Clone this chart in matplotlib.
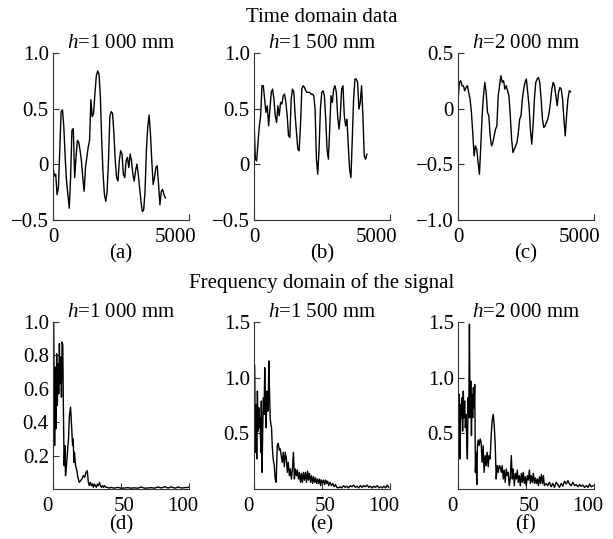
import numpy as np
import matplotlib
matplotlib.use("Agg")
import matplotlib.pyplot as plt
from matplotlib.transforms import ScaledTranslation

plt.rcParams['font.family'] = ['Liberation Serif', 'DejaVu Serif']
plt.rcParams['mathtext.fontset'] = 'custom'
plt.rcParams['mathtext.rm'] = 'Liberation Serif'
plt.rcParams['mathtext.it'] = 'Liberation Serif:italic'

# time domain data
a_vals = [-0.013, -0.105, -0.089, -0.272, -0.211, 0.124, 0.474, 0.489, 0.337, 0.063,
          -0.150, -0.272, -0.394, -0.120, 0.306, 0.321, -0.120, 0.063, 0.215, 0.200,
          0.124, 0.032, -0.120, -0.242, -0.029, 0.063, 0.154, 0.215, 0.580, 0.428,
          0.458, 0.641, 0.793, 0.839, 0.808, 0.610, 0.215, -0.089, -0.272, -0.333,
          -0.242, 0.032, 0.428, 0.474, 0.458, 0.276, 0.032, -0.120, -0.150, 0.032,
          0.124, 0.093, -0.089, -0.120, 0.032, 0.063, -0.029, 0.093, 0.032, -0.089,
          -0.150, -0.059, 0.002, -0.089, -0.211, -0.333, -0.424, -0.409, -0.242, 0.124,
          0.337, 0.443, 0.276, 0.032, -0.181, -0.120, -0.029, -0.013, -0.181, -0.363,
          -0.242, -0.226, -0.272, -0.302]
b_vals = [0.406, 0.046, 0.031, 0.196, 0.346, 0.436, 0.706, 0.706, 0.586, 0.466,
          0.526, 0.346, 0.496, 0.646, 0.676, 0.586, 0.436, 0.376, 0.526, 0.436,
          0.556, 0.541, 0.616, 0.631, 0.556, 0.436, 0.256, 0.241, 0.586, 0.676,
          0.646, 0.436, 0.286, 0.136, 0.121, 0.346, 0.676, 0.706, 0.691, 0.661,
          0.646, 0.646, 0.646, 0.631, 0.631, 0.616, 0.496, 0.046, -0.089, 0.136,
          0.496, 0.646, 0.661, 0.616, 0.406, 0.136, 0.046, 0.316, 0.616, 0.556,
          0.676, 0.706, 0.646, 0.436, 0.316, 0.436, 0.676, 0.706, 0.436, 0.346,
          0.406, 0.166, -0.044, -0.119, 0.226, 0.586, 0.766, 0.766, 0.736, 0.496,
          0.556, 0.706, 0.436, 0.076, 0.046, 0.091]
c_vals = [0.071, 0.236, 0.251, 0.206, 0.206, 0.161, 0.191, 0.206, 0.146, 0.086,
          -0.034, -0.214, -0.424, -0.334, -0.364, -0.484, -0.589, -0.334, -0.064, 0.116,
          0.236, 0.146, -0.034, -0.064, -0.244, -0.334, -0.304, -0.244, -0.184, -0.154,
          0.116, 0.206, 0.296, 0.236, 0.251, 0.176, 0.206, 0.161, 0.116, -0.064,
          -0.274, -0.394, -0.364, -0.334, -0.304, -0.214, -0.094, -0.064, 0.086, 0.176,
          0.236, 0.266, 0.146, 0.026, -0.184, -0.319, -0.154, 0.086, 0.236, 0.266,
          0.281, 0.236, 0.086, -0.094, -0.169, -0.154, -0.124, -0.094, -0.034, 0.056,
          0.176, 0.236, 0.206, 0.116, 0.026, 0.146, 0.191, 0.176, 0.086, -0.094,
          -0.244, -0.064, 0.086, 0.161, 0.152]
t_end = [4130, 4150, 4140]

# frequency domain
d_freq = [0.5, 1.2, 1.7, 2.2, 2.7, 3.2, 3.7, 4.2, 4.7, 5.2, 5.7, 6.2, 6.7, 7.2, 7.7,
          8.2, 8.7, 9.2, 9.9, 10.6, 11.4, 12.1, 12.9, 13.4, 13.9, 14.4, 14.9, 15.3,
          15.8, 16.6, 17.3, 18.3, 19.3, 20.3, 21.3, 22.3, 23.3, 24.3, 25.2, 26.0,
          26.7, 27.5, 28.2, 29.0, 29.7, 30.4, 31.2, 31.9, 32.7, 33.4, 34.2, 34.9,
          35.6, 36.4, 37.1, 37.9, 38.9, 40.1, 41.3, 42.6, 45.0, 47.5, 50.0, 51.2,
          52.5, 54.9, 57.4, 59.9, 62.4, 64.8, 67.3, 69.8, 72.3, 74.7, 77.2, 79.7,
          82.2, 84.6, 87.1, 89.6, 92.1, 94.5, 97.0, 99.5]
d_amp = [0.99, 0.26, 0.73, 0.36, 0.81, 0.50, 0.75, 0.57, 0.87, 0.63, 0.79, 0.55, 0.88,
         0.86, 0.44, 0.14, 0.26, 0.08, 0.14, 0.22, 0.30, 0.44, 0.49, 0.42, 0.34, 0.26,
         0.30, 0.16, 0.22, 0.14, 0.12, 0.07, 0.04, 0.05, 0.06, 0.08, 0.07, 0.10, 0.11,
         0.04, 0.02, 0.04, 0.02, 0.03, 0.01, 0.03, 0.02, 0.01, 0.03, 0.02, 0.04, 0.02,
         0.01, 0.02, 0.01, 0.02, 0.01, 0.01, 0.005, 0.01, 0.005, 0.01, 0.005, 0.005,
         0.006, 0.008, 0.005, 0.007, 0.005, 0.012, 0.005, 0.006, 0.008, 0.005, 0.012,
         0.006, 0.014, 0.006, 0.013, 0.005, 0.012, 0.006, 0.008, 0.01]
e_freq = [0.5, 1.0, 1.5, 2.0, 2.5, 3.0, 3.5, 4.0, 4.5, 5.0, 5.4, 5.9, 6.4, 6.9, 7.4,
          7.9, 8.4, 8.9, 9.4, 9.9, 10.4, 10.9, 11.4, 11.9, 12.4, 12.9, 13.4, 14.1,
          14.9, 15.6, 16.3, 17.1, 17.8, 18.6, 19.3, 20.0, 20.8, 21.5, 22.3, 23.0,
          23.8, 24.5, 25.2, 26.0, 26.7, 27.5, 28.2, 29.0, 29.7, 30.4, 31.2, 31.9,
          32.7, 33.4, 34.2, 34.9, 35.6, 36.4, 37.1, 37.9, 38.6, 39.4, 40.1, 40.8,
          41.6, 42.3, 43.1, 43.8, 44.6, 45.3, 46.0, 46.8, 47.5, 48.3, 49.0, 49.7,
          50.5, 51.2, 52.0, 52.7, 53.5, 54.2, 54.9, 55.9, 56.9, 57.9, 58.9, 59.9,
          60.9, 62.1, 63.4, 64.6, 65.8, 67.1, 68.3, 69.5, 70.8, 72.0, 73.3, 74.5,
          75.7, 77.0, 78.2, 79.4, 80.7, 81.9, 83.2, 84.4, 85.6, 86.9, 88.1, 89.3,
          90.6, 91.8, 93.1, 94.3, 95.5, 96.8, 98.0, 99.0]
e_amp = [1.11, 0.33, 0.76, 0.27, 0.88, 0.52, 0.73, 0.55, 0.64, 0.33, 0.79, 0.15, 0.52,
         0.82, 0.67, 1.09, 0.76, 0.55, 0.88, 0.70, 0.70, 1.15, 0.88, 0.64, 0.58, 0.55,
         0.39, 0.27, 0.21, 0.09, 0.06, 0.39, 0.41, 0.35, 0.36, 0.30, 0.24, 0.33, 0.20,
         0.33, 0.27, 0.15, 0.24, 0.12, 0.18, 0.09, 0.17, 0.33, 0.09, 0.18, 0.12, 0.17,
         0.09, 0.15, 0.06, 0.14, 0.06, 0.15, 0.08, 0.15, 0.06, 0.16, 0.08, 0.14, 0.06,
         0.12, 0.05, 0.11, 0.06, 0.10, 0.05, 0.09, 0.05, 0.09, 0.03, 0.08, 0.05, 0.08,
         0.04, 0.08, 0.05, 0.07, 0.03, 0.06, 0.03, 0.05, 0.02, 0.04, 0.015, 0.01, 0.02,
         0.01, 0.03, 0.015, 0.025, 0.01, 0.03, 0.02, 0.035, 0.015, 0.025, 0.01, 0.03,
         0.015, 0.03, 0.02, 0.035, 0.015, 0.025, 0.01, 0.025, 0.015, 0.03, 0.01, 0.02,
         0.01, 0.025, 0.01, 0.035, 0.015]
f_freq = [0.5, 1.0, 1.5, 2.0, 2.5, 3.0, 3.4, 3.9, 4.4, 4.9, 5.4, 5.9, 6.4, 6.9, 7.4,
          7.9, 8.4, 8.9, 9.4, 9.9, 10.3, 10.8, 11.3, 11.8, 12.3, 12.8, 13.3, 13.8,
          14.3, 14.8, 15.5, 16.3, 17.0, 17.7, 18.5, 19.2, 20.0, 20.7, 21.4, 22.2,
          22.9, 23.6, 24.4, 25.1, 25.9, 26.6, 27.3, 28.1, 28.8, 29.6, 30.3, 31.0,
          31.8, 32.5, 33.3, 34.0, 34.7, 35.5, 36.2, 36.9, 37.7, 38.4, 39.2, 39.9,
          40.6, 41.4, 42.1, 42.9, 43.6, 44.3, 45.1, 45.8, 46.6, 47.3, 48.0, 48.8,
          49.5, 50.2, 51.0, 51.7, 52.5, 53.2, 53.9, 54.7, 55.4, 56.2, 56.9, 57.6,
          58.4, 59.1, 59.9, 60.6, 61.3, 62.1, 62.8, 63.5, 64.8, 66.0, 67.2, 68.5,
          69.7, 70.9, 72.2, 73.4, 74.6, 75.9, 77.1, 78.3, 79.6, 80.8, 82.0, 83.2,
          84.5, 85.7, 86.9, 88.2, 89.4, 90.6, 91.8, 93.1, 94.3, 95.6, 96.8, 98.0, 99.3]
f_amp = [0.70, 0.85, 0.27, 0.76, 0.64, 0.82, 0.52, 0.88, 0.64, 0.79, 0.55, 0.67, 0.45,
         0.27, 0.82, 0.64, 1.48, 0.64, 0.97, 0.48, 0.85, 0.64, 0.91, 0.73, 0.94, 0.15,
         0.33, 0.04, 0.39, 0.44, 0.39, 0.45, 0.42, 0.24, 0.39, 0.15, 0.30, 0.21, 0.33,
         0.20, 0.30, 0.27, 0.48, 0.61, 0.67, 0.58, 0.42, 0.09, 0.21, 0.15, 0.21, 0.20,
         0.15, 0.21, 0.09, 0.17, 0.06, 0.18, 0.12, 0.15, 0.03, 0.09, 0.30, 0.09, 0.18,
         0.03, 0.14, 0.09, 0.17, 0.06, 0.12, 0.03, 0.14, 0.06, 0.15, 0.05, 0.11, 0.03,
         0.12, 0.08, 0.17, 0.05, 0.12, 0.06, 0.14, 0.05, 0.10, 0.05, 0.09, 0.03, 0.11,
         0.05, 0.13, 0.05, 0.12, 0.03, 0.05, 0.03, 0.06, 0.02, 0.05, 0.015, 0.06, 0.04,
         0.015, 0.05, 0.025, 0.07, 0.045, 0.075, 0.045, 0.03, 0.06, 0.03, 0.04, 0.02,
         0.04, 0.025, 0.035, 0.015, 0.03, 0.015, 0.045, 0.02, 0.03]

titles = ['$h$=1 000 mm', '$h$=1 500 mm', '$h$=2 000 mm']
top_labels = ['(a)', '(b)', '(c)']
bot_labels = ['(d)', '(e)', '(f)']

fs = 15
fig = plt.figure(figsize=(6.13, 5.39), dpi=100)
lefts = [53 / 613, 254 / 613, 458 / 613]
w, h = 136 / 613, 167 / 539


def style(ax):
    for s in ['top', 'right']:
        ax.spines[s].set_visible(False)
    for s in ['left', 'bottom']:
        ax.spines[s].set_color('#333333')
        ax.spines[s].set_linewidth(0.8)
    ax.tick_params(direction='in', length=4, width=0.8, color='#333333',
                   labelsize=fs, pad=3)
    ax.tick_params(axis='x', pad=6)


def nudge(label, dx_px):
    label.set_transform(label.get_transform() +
                        ScaledTranslation(dx_px / 100, 0, fig.dpi_scale_trans))


# top row: time domain
top_series = [a_vals, b_vals, c_vals]
top_yt = [[-0.5, 0, 0.5, 1.0], [-0.5, 0, 0.5, 1.0], [-1.0, -0.5, 0, 0.5]]
top_ytl = [['\u22120.5', '0', '0.5', '1.0'], ['\u22120.5', '0', '0.5', '1.0'],
           ['\u22121.0', '\u22120.5', '0', '0.5']]
for i in range(3):
    ax = fig.add_axes([lefts[i], 1 - 220 / 539, w, h])
    t = np.linspace(0, t_end[i], len(top_series[i]))
    ax.plot(t, top_series[i], color='black', lw=1.0)
    ax.set_xlim(0, 5000)
    ax.set_ylim(top_yt[i][0], top_yt[i][-1])
    ax.set_xticks([0, 5000])
    ax.set_xticklabels(['0', '5000'])
    ax.set_yticks(top_yt[i])
    ax.set_yticklabels(top_ytl[i])
    style(ax)
    nudge(ax.get_xticklabels()[1], -14)
    ax.set_title(titles[i], fontsize=fs, pad=2)
    ax.text(0.5, -0.2, top_labels[i], transform=ax.transAxes, ha='center',
            va='center', fontsize=fs)

# bottom row: frequency domain
bot_series = [(d_freq, d_amp), (e_freq, e_amp), (f_freq, f_amp)]
bot_yt = [[0.2, 0.4, 0.6, 0.8, 1.0], [0.5, 1.0, 1.5], [0.5, 1.0, 1.5]]
for i in range(3):
    ax = fig.add_axes([lefts[i], 1 - 489 / 539, w, h])
    fr, am = bot_series[i]
    ax.plot(fr, am, color='black', lw=1.0)
    ax.set_xlim(0, 100)
    ax.set_ylim(0, bot_yt[i][-1])
    ax.set_xticks([0, 50, 100])
    ax.set_xticklabels(['0', '50', '100'])
    ax.set_yticks(bot_yt[i])
    ax.set_yticklabels(['%.1f' % v for v in bot_yt[i]])
    style(ax)
    xl = ax.get_xticklabels()
    nudge(xl[0], -6)
    nudge(xl[1], 3)
    nudge(xl[2], -6)
    ax.set_title(titles[i], fontsize=fs, pad=2)
    ax.text(0.5, -0.215, bot_labels[i], transform=ax.transAxes, ha='center',
            va='center', fontsize=fs)

fig.text(322 / 613, 1 - 17 / 539, 'Time domain data', ha='center', va='center',
         fontsize=fs)
fig.text(322 / 613, 1 - 283 / 539, 'Frequency domain of the signal', ha='center',
         va='center', fontsize=fs)

fig.savefig('out.png', dpi=100, facecolor='white')
